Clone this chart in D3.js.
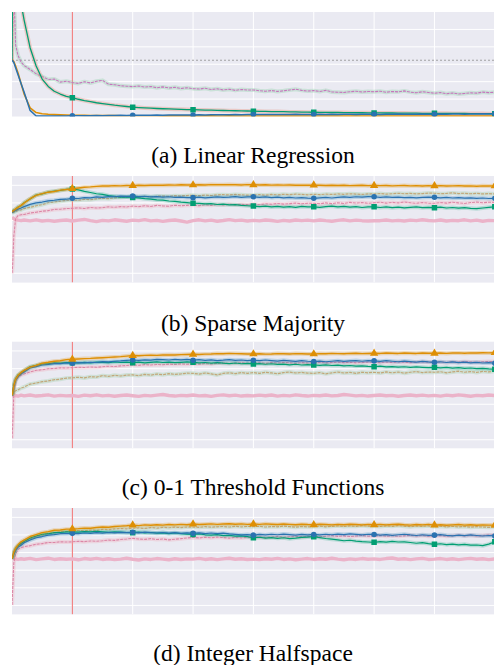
<!DOCTYPE html>
<html>
<head>
<meta charset="utf-8">
<script src="https://cdn.jsdelivr.net/npm/d3@7"></script>
<style>
  body { margin: 0; background: #fff; }
  svg { display: block; }
</style>
</head>
<body>
<svg id="fig" width="494" height="665"></svg>
<script>
// training steps (x, in thousands) shared by every curve
const steps = [0, 0.01, 0.03, 0.06, 0.1, 0.15, 0.2, 0.3, 0.4, 0.5, 0.6, 0.7, 0.8, 0.9,
  1, 1.1, 1.2, 1.3, 1.4, 1.5, 1.6, 1.7, 1.8, 1.9,
  2, 2.1, 2.2, 2.3, 2.4, 2.5, 2.6, 2.7, 2.8, 2.9,
  3, 3.1, 3.2, 3.3, 3.4, 3.5, 3.6, 3.7, 3.8, 3.9,
  4, 4.1, 4.2, 4.3, 4.4, 4.5, 4.6, 4.7, 4.8, 4.9,
  5, 5.1, 5.2, 5.3, 5.4, 5.5, 5.6, 5.7, 5.8, 5.9,
  6, 6.1, 6.2, 6.3, 6.4, 6.5, 6.6, 6.7, 6.8, 6.9,
  7, 7.1, 7.2, 7.3, 7.4, 7.5, 7.6, 7.7, 7.8, 7.9,
  8, 8.1];
const markerSteps = [1, 2, 3, 4, 5, 6, 7, 8];
const switchStep = 1;
const baselineLoss = 0.646;

// (a) Linear Regression - loss
const greenA = [0.65, 1.6, 1.6, 1.6, 1.6, 1.3, 1.11, 0.79, 0.58, 0.43, 0.345, 0.29, 0.258, 0.232,
  0.216, 0.198, 0.183, 0.17, 0.158, 0.149, 0.139, 0.13, 0.123, 0.115,
  0.107, 0.103, 0.099, 0.096, 0.092, 0.089, 0.087, 0.084, 0.082, 0.08,
  0.078, 0.076, 0.074, 0.073, 0.071, 0.069, 0.067, 0.066, 0.064, 0.063,
  0.061, 0.06, 0.058, 0.057, 0.056, 0.055, 0.053, 0.052, 0.051, 0.05,
  0.049, 0.048, 0.047, 0.046, 0.046, 0.045, 0.044, 0.043, 0.043, 0.042,
  0.041, 0.041, 0.04, 0.04, 0.039, 0.039, 0.038, 0.038, 0.037, 0.037,
  0.037, 0.036, 0.036, 0.035, 0.035, 0.035, 0.034, 0.034, 0.034, 0.033,
  0.033, 0.033];
const purpleA = [0.65, 0.9, 1.5, 0.82, 0.7, 0.625, 0.585, 0.54, 0.49, 0.46, 0.425, 0.43, 0.395, 0.405,
  0.39, 0.38, 0.4, 0.385, 0.405, 0.415, 0.37, 0.365, 0.352, 0.348,
  0.343, 0.35, 0.338, 0.345, 0.33, 0.34, 0.328, 0.335, 0.322, 0.33,
  0.32, 0.315, 0.325, 0.31, 0.318, 0.305, 0.313, 0.3, 0.31, 0.304,
  0.305, 0.296, 0.29, 0.298, 0.288, 0.295, 0.305, 0.313, 0.3, 0.292,
  0.297, 0.288, 0.3, 0.282, 0.279, 0.276, 0.285, 0.29, 0.281, 0.287,
  0.285, 0.29, 0.279, 0.287, 0.283, 0.294, 0.28, 0.272, 0.284, 0.276,
  0.267, 0.275, 0.262, 0.27, 0.259, 0.265, 0.272, 0.268, 0.28, 0.274,
  0.278, 0.27];
const blueA = [0.65, 0.64, 0.62, 0.56, 0.48, 0.38, 0.28, 0.07, 0.006, 0.005, 0.005, 0.006, 0.006, 0.007,
  0.008, 0.009, 0.008, 0.01, 0.011, 0.01, 0.012, 0.011, 0.013, 0.012,
  0.014, 0.013, 0.015, 0.014, 0.016, 0.015, 0.017, 0.016, 0.018, 0.017,
  0.018, 0.019, 0.018, 0.02, 0.019, 0.021, 0.02, 0.022, 0.021, 0.022,
  0.023, 0.022, 0.024, 0.023, 0.022, 0.024, 0.023, 0.025, 0.024, 0.023,
  0.024, 0.025, 0.023, 0.026, 0.024, 0.025, 0.027, 0.024, 0.026, 0.025,
  0.026, 0.024, 0.027, 0.025, 0.028, 0.026, 0.025, 0.027, 0.029, 0.026,
  0.027, 0.029, 0.026, 0.028, 0.03, 0.027, 0.029, 0.028, 0.031, 0.029,
  0.03, 0.028];
const orangeA = [0.65, 0.645, 0.63, 0.58, 0.5, 0.38, 0.26, 0.1, 0.045, 0.032, 0.026, 0.022, 0.019, 0.017,
  0.015, 0.014, 0.013, 0.012, 0.011, 0.011, 0.01, 0.01, 0.009, 0.009,
  0.009, 0.008, 0.009, 0.008, 0.008, 0.007, 0.008, 0.007, 0.007, 0.008,
  0.007, 0.006, 0.007, 0.007, 0.006, 0.006, 0.007, 0.006, 0.006, 0.005,
  0.005, 0.006, 0.005, 0.006, 0.005, 0.006, 0.005, 0.005, 0.006, 0.005,
  0.006, 0.005, 0.005, 0.006, 0.005, 0.006, 0.005, 0.006, 0.005, 0.005,
  0.005, 0.006, 0.005, 0.005, 0.006, 0.005, 0.006, 0.005, 0.005, 0.006,
  0.005, 0.005, 0.006, 0.005, 0.006, 0.005, 0.005, 0.006, 0.005, 0.005,
  0.005, 0.005];

// (b) Sparse Majority - accuracy
const orangeB = [0.75, 0.753, 0.757, 0.766, 0.775, 0.786, 0.799, 0.824, 0.843, 0.853, 0.861, 0.865, 0.873, 0.876,
  0.881, 0.885, 0.889, 0.891, 0.894, 0.896, 0.896, 0.898, 0.897, 0.899,
  0.898, 0.9, 0.899, 0.9, 0.901, 0.9, 0.902, 0.901, 0.903, 0.902,
  0.902, 0.903, 0.902, 0.904, 0.903, 0.903, 0.904, 0.903, 0.902, 0.904,
  0.903, 0.902, 0.903, 0.901, 0.902, 0.901, 0.902, 0.9, 0.901, 0.9,
  0.901, 0.9, 0.899, 0.9, 0.899, 0.9, 0.898, 0.899, 0.9, 0.898,
  0.899, 0.898, 0.899, 0.897, 0.898, 0.899, 0.897, 0.898, 0.896, 0.898,
  0.897, 0.898, 0.896, 0.897, 0.898, 0.896, 0.897, 0.895, 0.897, 0.896,
  0.897, 0.896];
const greenB = [0.75, 0.752, 0.759, 0.764, 0.777, 0.784, 0.801, 0.822, 0.845, 0.851, 0.862, 0.867, 0.871, 0.877,
  0.879, 0.874, 0.866, 0.859, 0.852, 0.849, 0.841, 0.838, 0.833, 0.834,
  0.831, 0.829, 0.824, 0.821, 0.817, 0.816, 0.811, 0.809, 0.804, 0.802,
  0.798, 0.797, 0.794, 0.796, 0.791, 0.793, 0.789, 0.79, 0.786, 0.784,
  0.782, 0.779, 0.782, 0.777, 0.78, 0.776, 0.779, 0.775, 0.78, 0.778,
  0.778, 0.775, 0.779, 0.782, 0.777, 0.78, 0.776, 0.779, 0.774, 0.777,
  0.778, 0.774, 0.777, 0.773, 0.776, 0.772, 0.775, 0.777, 0.773, 0.775,
  0.773, 0.776, 0.771, 0.774, 0.77, 0.773, 0.769, 0.767, 0.771, 0.775,
  0.778, 0.774];
const blueB = [0.748, 0.749, 0.752, 0.757, 0.765, 0.771, 0.779, 0.792, 0.8, 0.805, 0.812, 0.815, 0.82, 0.821,
  0.826, 0.825, 0.83, 0.829, 0.834, 0.832, 0.836, 0.835, 0.839, 0.837,
  0.839, 0.836, 0.838, 0.834, 0.836, 0.833, 0.835, 0.831, 0.833, 0.83,
  0.83, 0.833, 0.829, 0.832, 0.834, 0.831, 0.833, 0.836, 0.832, 0.834,
  0.835, 0.832, 0.834, 0.83, 0.833, 0.829, 0.831, 0.828, 0.83, 0.827,
  0.826, 0.829, 0.831, 0.828, 0.832, 0.834, 0.831, 0.835, 0.833, 0.836,
  0.835, 0.832, 0.834, 0.831, 0.833, 0.83, 0.832, 0.829, 0.831, 0.833,
  0.832, 0.829, 0.831, 0.828, 0.83, 0.827, 0.829, 0.826, 0.828, 0.825,
  0.826, 0.828];
const oliveB = [0.744, 0.745, 0.748, 0.751, 0.757, 0.76, 0.768, 0.775, 0.784, 0.79, 0.801, 0.805, 0.81, 0.814,
  0.816, 0.815, 0.82, 0.818, 0.823, 0.826, 0.824, 0.829, 0.831, 0.833,
  0.835, 0.833, 0.837, 0.835, 0.838, 0.839, 0.837, 0.841, 0.839, 0.842,
  0.843, 0.841, 0.844, 0.842, 0.846, 0.847, 0.845, 0.848, 0.846, 0.844,
  0.845, 0.847, 0.844, 0.848, 0.846, 0.849, 0.847, 0.85, 0.848, 0.846,
  0.849, 0.847, 0.85, 0.848, 0.851, 0.849, 0.852, 0.85, 0.848, 0.851,
  0.851, 0.853, 0.85, 0.852, 0.855, 0.852, 0.854, 0.851, 0.853, 0.856,
  0.855, 0.852, 0.854, 0.857, 0.853, 0.855, 0.852, 0.854, 0.851, 0.853,
  0.851, 0.853];
const pinkB = [0.4, 0.44, 0.61, 0.71, 0.728, 0.733, 0.734, 0.743, 0.747, 0.753, 0.756, 0.763, 0.764, 0.768,
  0.769, 0.772, 0.768, 0.774, 0.771, 0.773, 0.778, 0.775, 0.779, 0.777,
  0.782, 0.779, 0.784, 0.78, 0.786, 0.783, 0.781, 0.787, 0.784, 0.786,
  0.788, 0.784, 0.79, 0.786, 0.791, 0.788, 0.793, 0.789, 0.792, 0.79,
  0.794, 0.79, 0.795, 0.792, 0.797, 0.793, 0.796, 0.799, 0.795, 0.798,
  0.798, 0.795, 0.8, 0.796, 0.801, 0.797, 0.803, 0.799, 0.802, 0.798,
  0.801, 0.804, 0.799, 0.803, 0.8, 0.805, 0.801, 0.798, 0.802, 0.799,
  0.798, 0.802, 0.799, 0.804, 0.8, 0.797, 0.802, 0.805, 0.801, 0.804,
  0.803, 0.8];
const roseB = [0.72, 0.716, 0.71, 0.705, 0.702, 0.699, 0.703, 0.698, 0.704, 0.697, 0.701, 0.696, 0.7, 0.703,
  0.697, 0.702, 0.706, 0.699, 0.694, 0.701, 0.698, 0.704, 0.7, 0.696,
  0.702, 0.699, 0.705, 0.698, 0.701, 0.695, 0.7, 0.703, 0.697, 0.691,
  0.699, 0.704, 0.698, 0.702, 0.696, 0.7, 0.705, 0.699, 0.702, 0.697,
  0.701, 0.698, 0.703, 0.7, 0.695, 0.701, 0.697, 0.703, 0.699, 0.702,
  0.698, 0.703, 0.699, 0.696, 0.701, 0.704, 0.698, 0.702, 0.699, 0.697,
  0.699, 0.699, 0.703, 0.698, 0.701, 0.697, 0.702, 0.699, 0.704, 0.7,
  0.698, 0.703, 0.697, 0.701, 0.699, 0.704, 0.698, 0.702, 0.696, 0.701,
  0.699, 0.702];

// (c) 0-1 Threshold Functions - accuracy
const orangeC = [0.65, 0.662, 0.705, 0.742, 0.763, 0.779, 0.791, 0.809, 0.819, 0.831, 0.836, 0.842, 0.845, 0.851,
  0.853, 0.855, 0.857, 0.858, 0.86, 0.862, 0.864, 0.866, 0.868, 0.871,
  0.874, 0.873, 0.875, 0.876, 0.875, 0.877, 0.878, 0.877, 0.879, 0.88,
  0.881, 0.88, 0.882, 0.883, 0.885, 0.884, 0.886, 0.885, 0.884, 0.883,
  0.883, 0.884, 0.882, 0.883, 0.885, 0.884, 0.883, 0.885, 0.884, 0.883,
  0.883, 0.885, 0.884, 0.886, 0.885, 0.884, 0.886, 0.887, 0.885, 0.886,
  0.887, 0.886, 0.888, 0.887, 0.886, 0.888, 0.887, 0.886, 0.888, 0.887,
  0.887, 0.888, 0.886, 0.888, 0.889, 0.887, 0.889, 0.888, 0.89, 0.889,
  0.89, 0.889];
const blueC = [0.65, 0.66, 0.7, 0.735, 0.756, 0.771, 0.782, 0.804, 0.812, 0.821, 0.824, 0.829, 0.829, 0.832,
  0.831, 0.834, 0.833, 0.836, 0.835, 0.84, 0.838, 0.842, 0.844, 0.847,
  0.849, 0.847, 0.85, 0.848, 0.852, 0.851, 0.849, 0.852, 0.85, 0.853,
  0.848, 0.851, 0.847, 0.85, 0.846, 0.848, 0.851, 0.847, 0.849, 0.846,
  0.848, 0.845, 0.849, 0.846, 0.843, 0.847, 0.844, 0.841, 0.845, 0.842,
  0.84, 0.843, 0.839, 0.842, 0.845, 0.841, 0.844, 0.846, 0.842, 0.845,
  0.844, 0.841, 0.845, 0.842, 0.839, 0.843, 0.84, 0.837, 0.841, 0.838,
  0.836, 0.839, 0.835, 0.838, 0.834, 0.837, 0.833, 0.836, 0.832, 0.834,
  0.831, 0.833];
const greenC = [0.65, 0.663, 0.708, 0.743, 0.764, 0.776, 0.789, 0.811, 0.819, 0.827, 0.828, 0.833, 0.832, 0.835,
  0.834, 0.832, 0.836, 0.833, 0.837, 0.836, 0.834, 0.838, 0.835, 0.837,
  0.834, 0.837, 0.833, 0.836, 0.838, 0.835, 0.837, 0.834, 0.836, 0.838,
  0.836, 0.833, 0.835, 0.831, 0.834, 0.831, 0.829, 0.832, 0.828, 0.83,
  0.827, 0.829, 0.825, 0.828, 0.824, 0.826, 0.822, 0.825, 0.821, 0.823,
  0.821, 0.819, 0.822, 0.818, 0.82, 0.816, 0.818, 0.814, 0.816, 0.813,
  0.811, 0.814, 0.81, 0.812, 0.809, 0.811, 0.807, 0.81, 0.808, 0.806,
  0.808, 0.805, 0.807, 0.803, 0.806, 0.802, 0.804, 0.8, 0.802, 0.799,
  0.797, 0.799];
const oliveC = [0.652, 0.655, 0.664, 0.676, 0.681, 0.691, 0.697, 0.713, 0.719, 0.727, 0.731, 0.738, 0.741, 0.747,
  0.749, 0.752, 0.748, 0.755, 0.753, 0.761, 0.757, 0.763, 0.759, 0.764,
  0.765, 0.761, 0.768, 0.764, 0.77, 0.766, 0.772, 0.768, 0.771, 0.775,
  0.774, 0.77, 0.776, 0.771, 0.765, 0.774, 0.777, 0.772, 0.778, 0.774,
  0.778, 0.774, 0.78, 0.776, 0.772, 0.778, 0.781, 0.776, 0.779, 0.775,
  0.774, 0.778, 0.771, 0.777, 0.781, 0.776, 0.779, 0.774, 0.78, 0.777,
  0.78, 0.776, 0.782, 0.777, 0.781, 0.775, 0.78, 0.784, 0.778, 0.781,
  0.78, 0.783, 0.777, 0.782, 0.786, 0.78, 0.784, 0.779, 0.785, 0.782,
  0.787, 0.784];
const pinkC = [0.408, 0.47, 0.66, 0.732, 0.752, 0.764, 0.77, 0.782, 0.791, 0.794, 0.8, 0.801, 0.805, 0.804,
  0.806, 0.808, 0.807, 0.81, 0.808, 0.811, 0.814, 0.812, 0.816, 0.818,
  0.821, 0.819, 0.823, 0.821, 0.824, 0.822, 0.826, 0.824, 0.827, 0.825,
  0.828, 0.826, 0.829, 0.827, 0.83, 0.832, 0.829, 0.831, 0.833, 0.83,
  0.831, 0.833, 0.83, 0.834, 0.832, 0.835, 0.833, 0.831, 0.834, 0.832,
  0.834, 0.836, 0.833, 0.835, 0.837, 0.834, 0.836, 0.833, 0.835, 0.837,
  0.836, 0.834, 0.837, 0.835, 0.838, 0.836, 0.834, 0.837, 0.839, 0.836,
  0.836, 0.838, 0.835, 0.839, 0.837, 0.84, 0.838, 0.836, 0.839, 0.841,
  0.84, 0.838];
const roseC = [0.652, 0.65, 0.647, 0.649, 0.645, 0.651, 0.647, 0.652, 0.646, 0.649, 0.653, 0.646, 0.65, 0.647,
  0.649, 0.644, 0.651, 0.648, 0.653, 0.647, 0.65, 0.645, 0.649, 0.652,
  0.648, 0.644, 0.65, 0.647, 0.651, 0.655, 0.649, 0.646, 0.65, 0.648,
  0.652, 0.647, 0.649, 0.644, 0.65, 0.653, 0.648, 0.651, 0.646, 0.649,
  0.647, 0.651, 0.648, 0.652, 0.646, 0.65, 0.647, 0.653, 0.649, 0.646,
  0.65, 0.648, 0.652, 0.647, 0.649, 0.655, 0.651, 0.647, 0.65, 0.646,
  0.649, 0.652, 0.648, 0.65, 0.645, 0.649, 0.652, 0.648, 0.651, 0.647,
  0.65, 0.646, 0.651, 0.648, 0.653, 0.649, 0.645, 0.65, 0.648, 0.652,
  0.649, 0.651];

// (d) Integer Halfspace - accuracy
const orangeD = [0.665, 0.676, 0.702, 0.726, 0.744, 0.761, 0.771, 0.791, 0.802, 0.813, 0.819, 0.827, 0.828, 0.833,
  0.834, 0.836, 0.839, 0.838, 0.842, 0.845, 0.844, 0.848, 0.85, 0.852,
  0.856, 0.853, 0.857, 0.855, 0.858, 0.856, 0.859, 0.857, 0.86, 0.858,
  0.862, 0.859, 0.861, 0.863, 0.86, 0.862, 0.864, 0.861, 0.863, 0.86,
  0.862, 0.86, 0.863, 0.861, 0.859, 0.862, 0.86, 0.858, 0.861, 0.859,
  0.858, 0.861, 0.859, 0.857, 0.86, 0.858, 0.861, 0.859, 0.857, 0.86,
  0.858, 0.86, 0.857, 0.859, 0.861, 0.858, 0.856, 0.859, 0.857, 0.86,
  0.856, 0.858, 0.855, 0.857, 0.859, 0.856, 0.858, 0.855, 0.857, 0.856,
  0.856, 0.854];
const blueD = [0.665, 0.672, 0.689, 0.712, 0.731, 0.742, 0.756, 0.771, 0.784, 0.791, 0.799, 0.802, 0.807, 0.807,
  0.809, 0.807, 0.811, 0.809, 0.813, 0.81, 0.814, 0.812, 0.815, 0.813,
  0.815, 0.812, 0.816, 0.813, 0.811, 0.814, 0.81, 0.813, 0.809, 0.812,
  0.809, 0.812, 0.808, 0.811, 0.807, 0.81, 0.806, 0.803, 0.8, 0.802,
  0.799, 0.803, 0.8, 0.804, 0.801, 0.805, 0.802, 0.799, 0.803, 0.8,
  0.803, 0.8, 0.804, 0.801, 0.805, 0.802, 0.806, 0.803, 0.8, 0.804,
  0.803, 0.799, 0.802, 0.798, 0.801, 0.804, 0.8, 0.797, 0.801, 0.798,
  0.799, 0.802, 0.798, 0.795, 0.799, 0.796, 0.8, 0.797, 0.794, 0.797,
  0.794, 0.796];
const greenD = [0.665, 0.675, 0.698, 0.723, 0.739, 0.753, 0.763, 0.783, 0.794, 0.804, 0.807, 0.813, 0.814, 0.818,
  0.818, 0.816, 0.819, 0.817, 0.82, 0.818, 0.815, 0.818, 0.816, 0.814,
  0.813, 0.816, 0.812, 0.814, 0.81, 0.812, 0.808, 0.811, 0.807, 0.805,
  0.803, 0.806, 0.801, 0.799, 0.802, 0.796, 0.798, 0.793, 0.795, 0.79,
  0.784, 0.787, 0.782, 0.785, 0.781, 0.784, 0.779, 0.782, 0.786, 0.788,
  0.79, 0.785, 0.78, 0.776, 0.772, 0.767, 0.77, 0.765, 0.762, 0.76,
  0.758, 0.762, 0.759, 0.763, 0.76, 0.761, 0.757, 0.753, 0.756, 0.751,
  0.747, 0.75, 0.745, 0.748, 0.744, 0.747, 0.742, 0.743, 0.739, 0.748,
  0.761, 0.757];
const oliveD = [0.665, 0.671, 0.694, 0.718, 0.736, 0.749, 0.763, 0.777, 0.791, 0.799, 0.809, 0.812, 0.818, 0.819,
  0.822, 0.825, 0.823, 0.828, 0.826, 0.832, 0.83, 0.834, 0.836, 0.835,
  0.838, 0.84, 0.837, 0.842, 0.839, 0.843, 0.841, 0.844, 0.842, 0.845,
  0.845, 0.843, 0.847, 0.844, 0.846, 0.848, 0.845, 0.849, 0.846, 0.848,
  0.847, 0.849, 0.845, 0.848, 0.846, 0.85, 0.847, 0.844, 0.848, 0.846,
  0.847, 0.85, 0.846, 0.849, 0.852, 0.848, 0.851, 0.849, 0.853, 0.85,
  0.851, 0.848, 0.852, 0.849, 0.853, 0.85, 0.847, 0.851, 0.849, 0.852,
  0.847, 0.85, 0.846, 0.849, 0.845, 0.848, 0.844, 0.847, 0.845, 0.843,
  0.845, 0.843];
const pinkD = [0.402, 0.48, 0.64, 0.69, 0.719, 0.727, 0.734, 0.739, 0.747, 0.751, 0.757, 0.757, 0.761, 0.76,
  0.761, 0.764, 0.762, 0.766, 0.764, 0.767, 0.771, 0.769, 0.774, 0.777,
  0.781, 0.777, 0.775, 0.779, 0.774, 0.777, 0.772, 0.776, 0.779, 0.783,
  0.786, 0.783, 0.787, 0.784, 0.788, 0.785, 0.782, 0.786, 0.783, 0.787,
  0.786, 0.789, 0.785, 0.788, 0.791, 0.787, 0.79, 0.793, 0.789, 0.792,
  0.794, 0.79, 0.793, 0.796, 0.792, 0.795, 0.791, 0.794, 0.797, 0.793,
  0.794, 0.797, 0.793, 0.796, 0.792, 0.795, 0.798, 0.794, 0.797, 0.793,
  0.794, 0.797, 0.793, 0.796, 0.799, 0.795, 0.798, 0.794, 0.797, 0.8,
  0.799, 0.796];
const roseD = [0.675, 0.67, 0.666, 0.664, 0.661, 0.665, 0.662, 0.667, 0.66, 0.664, 0.668, 0.661, 0.665, 0.662,
  0.664, 0.659, 0.666, 0.662, 0.667, 0.661, 0.665, 0.66, 0.663, 0.668,
  0.662, 0.658, 0.664, 0.661, 0.666, 0.663, 0.659, 0.665, 0.661, 0.664,
  0.663, 0.667, 0.661, 0.665, 0.66, 0.664, 0.668, 0.662, 0.665, 0.661,
  0.663, 0.66, 0.665, 0.662, 0.667, 0.661, 0.664, 0.659, 0.663, 0.666,
  0.661, 0.665, 0.662, 0.668, 0.663, 0.659, 0.664, 0.661, 0.666, 0.662,
  0.664, 0.661, 0.666, 0.669, 0.662, 0.665, 0.66, 0.664, 0.667, 0.661,
  0.663, 0.666, 0.661, 0.665, 0.66, 0.664, 0.667, 0.662, 0.665, 0.66,
  0.664, 0.662];

const captions = ["(a) Linear Regression", "(b) Sparse Majority", "(c) 0-1 Threshold Functions", "(d) Integer Halfspace"];
const lossGrid = [0.2, 0.4, 0.6, 0.8, 1.0];
const accGrid = [0.4, 0.5, 0.6, 0.7, 0.8, 0.9];

// line looks
const styles = {
  orange: { color: "#de8f05", width: 1.4, halo: "#de8f05", haloOp: 0.25, marker: d3.symbolTriangle },
  blue:   { color: "#2a72b0", width: 1.2, halo: "#0173b2", haloOp: 0.2, marker: d3.symbolCircle },
  green:  { color: "#029e73", width: 1.2, halo: "#029e73", haloOp: 0.2, marker: d3.symbolSquare },
  olive:  { color: "#c2a679", width: 1.2, dash: "3,1", halo: "#9fcfa6", haloOp: 0.35 },
  pink:   { color: "#dc86a6", width: 1.1, dash: "3,1", halo: "#f2a6b4", haloOp: 0.3 },
  rose:   { color: "#ebb3c9", width: 3.4 },
  purple: { color: "#c675bd", width: 1.1, dash: "3,1", halo: "#8fd0a8", haloOp: 0.35 },
  greenLoss: { color: "#029e73", width: 1.3, halo: "#e9a08e", haloOp: 0.45, marker: d3.symbolSquare },
  blueLoss:  { color: "#2a72b0", width: 1.5, marker: d3.symbolCircle },
  orangeLoss: { color: "#de8f05", width: 1.6 }
};

const panels = [
  { top: 12, height: 104.5, domain: [0, 1.2], grid: lossGrid, capY: 163,
    series: [[purpleA, "purple"], [greenA, "greenLoss"], [orangeA, "orangeLoss"], [blueA, "blueLoss"]] },
  { top: 176, height: 106.6, domain: [0.347, 0.953], grid: accGrid, capY: 331,
    series: [[roseB, "rose"], [pinkB, "pink"], [oliveB, "olive"], [greenB, "green"], [blueB, "blue"], [orangeB, "orange"]] },
  { top: 341.7, height: 106.6, domain: [0.352, 0.952], grid: accGrid, capY: 495,
    series: [[roseC, "rose"], [pinkC, "pink"], [oliveC, "olive"], [greenC, "green"], [blueC, "blue"], [orangeC, "orange"]] },
  { top: 508, height: 106.4, domain: [0.349, 0.953], grid: accGrid, capY: 661,
    series: [[roseD, "rose"], [pinkD, "pink"], [oliveD, "olive"], [greenD, "green"], [blueD, "blue"], [orangeD, "orange"]] }
];

const svg = d3.select("#fig");
const left = 12, right = 500;
const x = d3.scaleLinear().domain([0, 8.1]).range([left, left + 8.1 * 60.35]);

panels.forEach((p, pi) => {
  const y = d3.scaleLinear().domain(p.domain).range([p.top + p.height, p.top]);
  const g = svg.append("g");

  g.append("clipPath").attr("id", "clip" + pi)
    .append("rect").attr("x", left).attr("y", p.top)
    .attr("width", right - left).attr("height", p.height);

  g.append("rect").attr("x", left).attr("y", p.top)
    .attr("width", right - left).attr("height", p.height).attr("fill", "#eaeaf2");

  const body = g.append("g").attr("clip-path", `url(#clip${pi})`);

  body.selectAll(".hgrid").data(p.grid).enter().append("line")
    .attr("x1", left).attr("x2", right)
    .attr("y1", d => y(d)).attr("y2", d => y(d))
    .attr("stroke", "#fff").attr("stroke-width", 1);

  body.selectAll(".vgrid").data(markerSteps).enter().append("line")
    .attr("x1", d => x(d)).attr("x2", d => x(d))
    .attr("y1", p.top).attr("y2", p.top + p.height)
    .attr("stroke", "#fff").attr("stroke-width", 1);

  if (pi === 0) {
    body.append("line")
      .attr("x1", left).attr("x2", right)
      .attr("y1", y(baselineLoss)).attr("y2", y(baselineLoss))
      .attr("stroke", "#9a9a9a").attr("stroke-width", 0.9).attr("stroke-dasharray", "2,2");
  }

  body.append("line")
    .attr("x1", x(switchStep)).attr("x2", x(switchStep))
    .attr("y1", p.top).attr("y2", p.top + p.height)
    .attr("stroke", "#f06e70").attr("stroke-width", 1);

  const line = d3.line()
    .x((d, i) => x(steps[i]))
    .y(d => y(d));

  p.series.forEach(([vals, key]) => {
    const s = styles[key];
    if (s.halo) {
      body.append("path").datum(vals)
        .attr("d", line).attr("fill", "none")
        .attr("stroke", s.halo).attr("stroke-opacity", s.haloOp)
        .attr("stroke-width", 4).attr("stroke-linejoin", "round");
    }
    body.append("path").datum(vals)
      .attr("d", line).attr("fill", "none")
      .attr("stroke", s.color).attr("stroke-width", s.width)
      .attr("stroke-dasharray", s.dash || null)
      .attr("stroke-linejoin", "round");
  });

  p.series.forEach(([vals, key]) => {
    const s = styles[key];
    if (!s.marker) return;
    const pts = markerSteps.map(k => {
      const i = steps.findIndex(v => Math.abs(v - k) < 1e-9);
      return [x(k), y(vals[i])];
    });
    body.selectAll(null).data(pts).enter().append("path")
      .attr("d", d3.symbol().type(s.marker).size(s.marker === d3.symbolCircle ? 24 : 30))
      .attr("transform", d => `translate(${d[0]},${d[1]})`)
      .attr("fill", s.color);
  });

  svg.append("text")
    .attr("x", 253).attr("y", p.capY)
    .attr("text-anchor", "middle")
    .attr("font-family", "'Liberation Serif', 'Times New Roman', serif")
    .attr("font-size", 23.5)
    .attr("fill", "#000")
    .text(captions[pi]);
});
</script>
</body>
</html>
